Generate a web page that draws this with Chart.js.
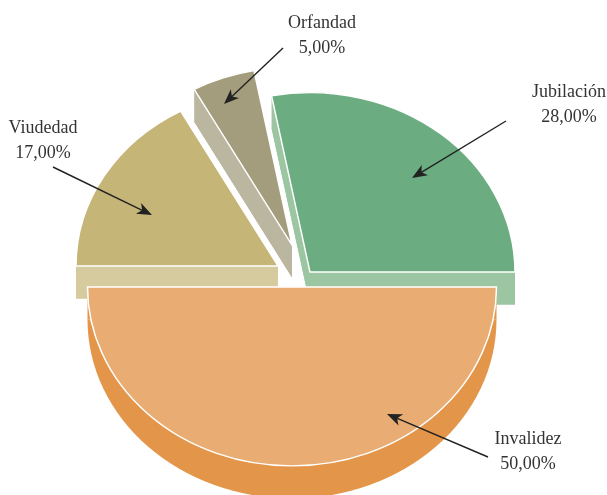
<!DOCTYPE html>
<html>
<head>
<meta charset="utf-8">
<style>
html, body { margin: 0; padding: 0; background: #fff; }
canvas { display: block; }
</style>
<script src="https://cdn.jsdelivr.net/npm/chart.js@4/dist/chart.umd.min.js"></script>
</head>
<body>
<canvas id="chartPie" width="607" height="495"></canvas>
<script>
const categories = ['Jubilación', 'Invalidez', 'Viudedad', 'Orfandad'];
const values = [28, 50, 17, 5];

const topColors = ['#6bad80', '#e9ac72', '#c5b577', '#a39c7d'];
const sideColors = ['#9cc5a1', '#e3964a', '#d6cb9e', '#bab69f'];

// the pie is squashed and every slice is moved by hand, like the exploded 3d original
const squash = 0.875;
const depth = 32.5;
const centers = [[310, 272], [292, 287], [278, 266], [292, 245]];
const radii = [205, 204.5, 202, 203];

// label x, first baseline, arrow from, arrow to
const notes = [
    { x: 569, y: 97, from: [506, 121], to: [412, 178] },
    { x: 528, y: 444, from: [488, 457], to: [387, 414] },
    { x: 43, y: 133, from: [53, 167], to: [152, 215] },
    { x: 322, y: 28, from: [283, 48], to: [224, 104] }
];

const fmt = v => v.toFixed(2).replace('.', ',') + '%';

function drawArrow(ctx, from, to) {
    const a = Math.atan2(to[1] - from[1], to[0] - from[0]);
    ctx.strokeStyle = '#222';
    ctx.fillStyle = '#222';
    ctx.lineWidth = 1.4;
    ctx.beginPath();
    ctx.moveTo(from[0], from[1]);
    ctx.lineTo(to[0] - Math.cos(a) * 8, to[1] - Math.sin(a) * 8);
    ctx.stroke();
    ctx.save();
    ctx.translate(to[0], to[1]);
    ctx.rotate(a);
    ctx.beginPath();
    ctx.moveTo(0, 0);
    ctx.lineTo(-15, -6);
    ctx.lineTo(-11, 0);
    ctx.lineTo(-15, 6);
    ctx.closePath();
    ctx.fill();
    ctx.restore();
}

const pie3d = {
    id: 'pie3d',
    afterDatasetsUpdate(chart) {
        chart.getDatasetMeta(0).data.forEach((arc, i) => {
            arc.x = centers[i][0];
            arc.y = centers[i][1] / squash;
            arc.outerRadius = radii[i];
        });
    },
    beforeDatasetsDraw(chart) {
        const ctx = chart.ctx;
        chart.getDatasetMeta(0).data.forEach((arc, i) => {
            const cx = centers[i][0];
            const cy = centers[i][1];
            const r = radii[i];
            const pts = [arc.startAngle, arc.endAngle].map(a => [cx + Math.cos(a) * r, cy + Math.sin(a) * r * squash]);
            ctx.fillStyle = sideColors[i];
            // sector moved down
            ctx.beginPath();
            ctx.moveTo(cx, cy + depth);
            ctx.ellipse(cx, cy + depth, r, r * squash, 0, arc.startAngle, arc.endAngle);
            ctx.closePath();
            ctx.fill();
            // the two cut faces
            pts.forEach(p => {
                ctx.beginPath();
                ctx.moveTo(cx, cy);
                ctx.lineTo(p[0], p[1]);
                ctx.lineTo(p[0], p[1] + depth);
                ctx.lineTo(cx, cy + depth);
                ctx.closePath();
                ctx.fill();
            });
        });
        ctx.save();
        ctx.scale(1, squash);
    },
    afterDatasetsDraw(chart) {
        const ctx = chart.ctx;
        ctx.restore();
        ctx.textAlign = 'center';
        ctx.textBaseline = 'alphabetic';
        notes.forEach((n, i) => {
            drawArrow(ctx, n.from, n.to);
            ctx.fillStyle = '#333';
            ctx.font = '18px "Liberation Serif"';
            ctx.fillText(categories[i], n.x, n.y);
            ctx.fillText(fmt(values[i]), n.x, n.y + 25);
        });
    }
};

new Chart(document.getElementById('chartPie'), {
    type: 'pie',
    data: {
        labels: categories,
        datasets: [{
            data: values,
            backgroundColor: topColors,
            borderColor: '#ffffff',
            borderWidth: 1.5,
            borderJoinStyle: 'miter'
        }]
    },
    options: {
        responsive: false,
        animation: false,
        events: [],
        rotation: -10.8,
        plugins: {
            legend: { display: false },
            tooltip: { enabled: false }
        }
    },
    plugins: [pie3d]
});
</script>
</body>
</html>
